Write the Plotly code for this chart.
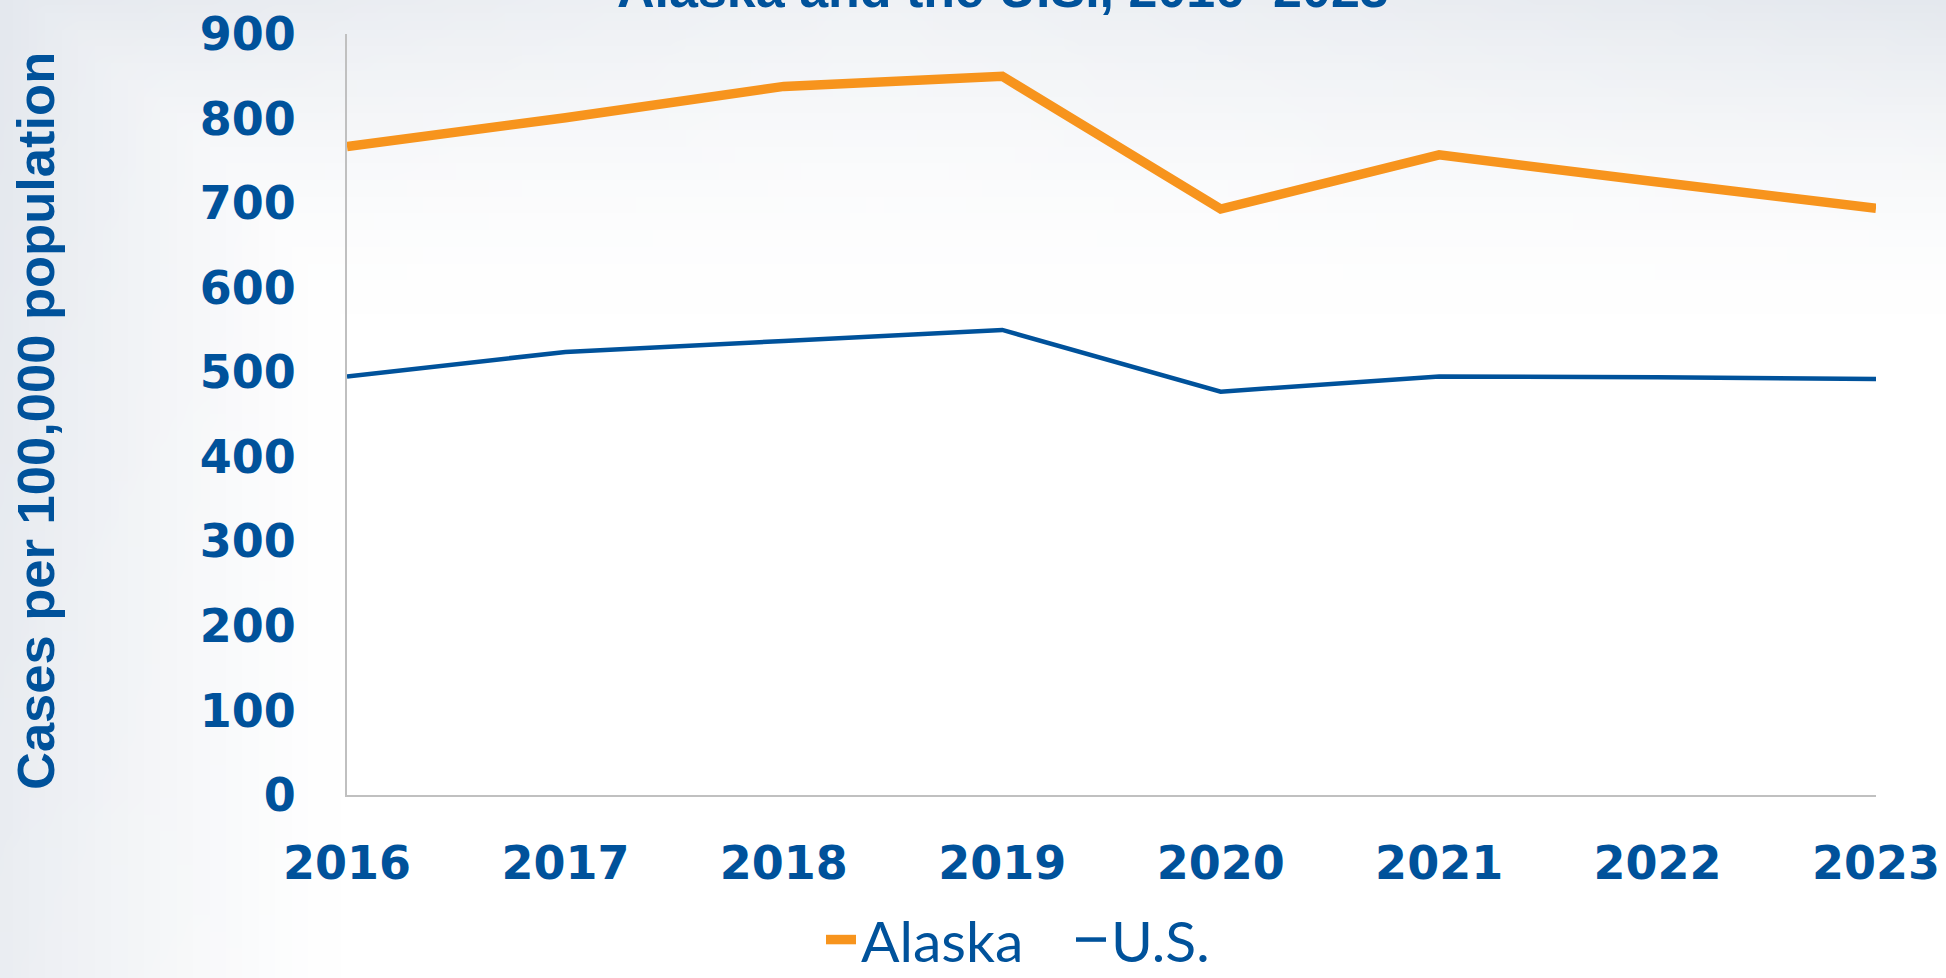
import base64
import struct
import zlib

import numpy as np
import plotly.graph_objects as go

# Chlamydia case rates per 100,000 population
years = ["2016", "2017", "2018", "2019", "2020", "2021", "2022", "2023"]
alaska_rates = [767, 801, 838, 850, 693, 757, 725, 694]
us_rates = [495, 524, 537, 550, 477, 495, 494, 492]
y_ticks = [0, 100, 200, 300, 400, 500, 600, 700, 800, 900]

BLUE = "#00529B"
ORANGE = "#F7941D"

W, H = 1946, 978
L, R, T, B = 347, 70, 34, 183
PW, PH = W - L - R, H - T - B


def gradient_png(width=120, height=60):
    """Slide backdrop: white body with cool grey along the top and left edges."""
    u = np.linspace(0, 1, width)[None, :]
    v = np.linspace(0, 1, height)[:, None]
    left = np.clip(1 - u / 0.17, 0, 1) ** 1.2 * (0.75 + 0.25 * (1 - v))
    top = np.clip(1 - v / 0.32, 0, 1) ** 1.6 * (0.55 + 0.45 * np.abs(u - 0.45) / 0.55)
    t = np.maximum(left, top)
    white = np.array([255, 255, 255], dtype=float)
    grey = np.array([228, 232, 238], dtype=float)
    img = (white * (1 - t[..., None]) + grey * t[..., None]).astype(np.uint8)
    raw = b"".join(b"\x00" + row.tobytes() for row in img)

    def chunk(tag, data):
        c = struct.pack(">I", len(data)) + tag + data
        return c + struct.pack(">I", zlib.crc32(tag + data) & 0xFFFFFFFF)

    png = (b"\x89PNG\r\n\x1a\n"
           + chunk(b"IHDR", struct.pack(">IIBBBBB", width, height, 8, 2, 0, 0, 0))
           + chunk(b"IDAT", zlib.compress(raw, 9))
           + chunk(b"IEND", b""))
    return "data:image/png;base64," + base64.b64encode(png).decode()


fig = go.Figure()
fig.add_trace(go.Scatter(
    x=years, y=alaska_rates, name="Alaska", mode="lines",
    line=dict(color=ORANGE, width=9.5),
))
fig.add_trace(go.Scatter(
    x=years, y=us_rates, name="U.S.", mode="lines",
    line=dict(color=BLUE, width=4.5),
))

tick_font = dict(family="DejaVu Sans", size=46, color=BLUE, weight="bold")
pad = 12  # backdrop bleed beyond the page edge

fig.update_layout(
    width=W, height=H,
    margin=dict(l=L, r=R, t=T, b=B, autoexpand=False),
    paper_bgcolor="#ffffff",
    plot_bgcolor="rgba(255,255,255,0)",
    showlegend=True,
    legend=dict(
        orientation="h", xref="paper", yref="paper",
        x=(821 - L) / PW, xanchor="left",
        y=-(B + 6) / PH, yanchor="bottom",
        font=dict(family="Lato", size=57, color=BLUE),
        bgcolor="rgba(0,0,0,0)", itemwidth=30,
        entrywidth=205, entrywidthmode="pixels",
    ),
    xaxis=dict(
        type="category", range=[0, 7], automargin=False,
        showgrid=False, zeroline=False,
        showline=True, linecolor="#c0c0c0", linewidth=2,
        ticks="", ticklabelstandoff=27,
        tickfont=tick_font,
    ),
    yaxis=dict(
        range=[0, 900], tickvals=y_ticks, automargin=False,
        showgrid=False, zeroline=False,
        showline=True, linecolor="#c0c0c0", linewidth=2,
        ticks="", ticklabelstandoff=40,
        tickfont=tick_font,
    ),
    images=[dict(
        source=gradient_png(), xref="paper", yref="paper",
        x=-(L + pad) / PW, y=1 + (T + pad) / PH,
        sizex=(W + 2 * pad) / PW, sizey=(H + 2 * pad) / PH,
        xanchor="left", yanchor="top", sizing="stretch", layer="below",
    )],
    annotations=[
        dict(
            text="Alaska and the U.S., 2016\u20132023",
            xref="paper", yref="paper", x=(1003 - L) / PW, y=1,
            xanchor="center", yanchor="middle", yshift=T + 11,
            showarrow=False,
            font=dict(family="Liberation Sans", size=52,
                      color=BLUE, weight="bold"),
        ),
        dict(
            text="Cases per 100,000 population",
            xref="paper", yref="paper", x=-(L - 35) / PW, y=(795 - 421) / PH,
            xanchor="center", yanchor="middle", textangle=-90,
            showarrow=False,
            font=dict(family="Liberation Sans", size=52.5,
                      color=BLUE, weight="bold"),
        ),
    ],
)

fig.write_html("out.html")
